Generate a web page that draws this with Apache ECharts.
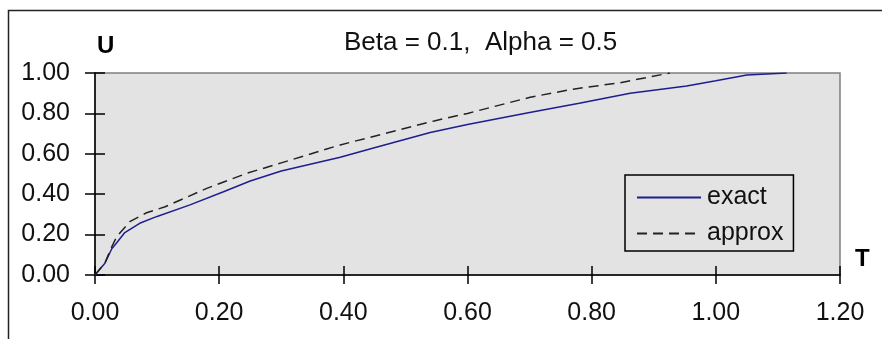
<!DOCTYPE html>
<html lang="en">
<head>
    <meta charset="utf-8">
    <title>Beta = 0.1, Alpha = 0.5</title>
    <script type="text/javascript" src="https://cdn.jsdelivr.net/npm/echarts@6/dist/echarts.min.js"></script>
    <style type="text/css">
        html, body {
            margin: 0;
            padding: 0;
            background: #ffffff;
        }

        #main {
            width: 882px;
            height: 339px;
        }
    </style>
</head>
<body>
<div id="main"></div>
<script type="text/javascript">
    // T / U pairs
    var exactT = [0, 0.008, 0.016, 0.027, 0.035, 0.048, 0.072, 0.10, 0.153, 0.207, 0.25, 0.30, 0.395, 0.45, 0.54, 0.60, 0.70, 0.78, 0.862, 0.953, 1.00, 1.05, 1.114];
    var exactU = [0, 0.03, 0.058, 0.13, 0.16, 0.21, 0.256, 0.29, 0.347, 0.412, 0.465, 0.515, 0.583, 0.63, 0.705, 0.745, 0.805, 0.85, 0.90, 0.936, 0.962, 0.99, 1.0];

    var approxT = [0, 0.016, 0.027, 0.035, 0.056, 0.083, 0.113, 0.18, 0.244, 0.30, 0.395, 0.47, 0.548, 0.60, 0.701, 0.77, 0.846, 0.926];
    var approxU = [0, 0.06, 0.14, 0.19, 0.264, 0.308, 0.338, 0.429, 0.503, 0.555, 0.644, 0.703, 0.764, 0.80, 0.88, 0.92, 0.952, 1.0];

    var xTicks = ['0.00', '0.20', '0.40', '0.60', '0.80', '1.00', '1.20'];
    var yTicks = ['0.00', '0.20', '0.40', '0.60', '0.80', '1.00'];

    function pairs(xs, ys) {
        var out = [];
        for (var i = 0; i < xs.length; i++) {
            out.push([xs[i], ys[i]]);
        }
        return out;
    }

    var font = "'Liberation Sans', Arial, sans-serif";

    var myChart = echarts.init(document.getElementById('main'));

    var option = {
        animation: false,
        textStyle: {
            fontFamily: font
        },
        title: {
            text: 'Beta = 0.1,  Alpha = 0.5',
            left: 344,
            top: 30,
            padding: 0,
            textStyle: {
                fontFamily: font,
                fontSize: 26,
                fontWeight: 'normal',
                color: '#111'
            }
        },
        graphic: [{
            type: 'rect',
            silent: true,
            shape: {x: 8.5, y: 10.5, width: 1000, height: 1000},
            style: {fill: null, stroke: '#222', lineWidth: 1.5}
        }],
        legend: {
            orient: 'vertical',
            left: 625,
            top: 175,
            padding: [10, 10, 5, 11],
            itemGap: 11,
            itemWidth: 64,
            itemHeight: 14,
            borderColor: '#000',
            borderWidth: 1.5,
            borderRadius: 0,
            itemStyle: {opacity: 0},
            textStyle: {
                fontFamily: font,
                fontSize: 25,
                color: '#111',
                padding: [0, 0, 0, 1]
            },
            data: ['exact', 'approx']
        },
        grid: {
            left: 95,
            top: 73,
            width: 745,
            height: 202,
            show: true,
            backgroundColor: '#e3e3e3',
            borderColor: '#808080',
            borderWidth: 1.5
        },
        xAxis: [{
            type: 'value',
            position: 'bottom',
            min: 0,
            max: 1.2,
            interval: 0.2,
            name: 'T',
            nameLocation: 'end',
            nameGap: 15,
            nameTextStyle: {
                fontFamily: font,
                fontSize: 24,
                fontWeight: 'bold',
                color: '#000',
                verticalAlign: 'bottom',
                align: 'left',
                padding: [0, 0, 4, 0]
            },
            splitLine: {show: false},
            axisLine: {lineStyle: {color: '#000', width: 1.5}},
            axisTick: {length: 9, lineStyle: {color: '#000', width: 1.5}},
            axisLabel: {
                margin: 26,
                fontFamily: font,
                fontSize: 25,
                color: '#111',
                formatter: function (v) {
                    return xTicks[Math.round(v / 0.2)];
                }
            }
        }, {
            type: 'value',
            position: 'bottom',
            min: 0,
            max: 1.2,
            interval: 0.2,
            splitLine: {show: false},
            axisLine: {show: false},
            axisTick: {inside: true, length: 9, lineStyle: {color: '#000', width: 1.5}},
            axisLabel: {show: false}
        }],
        yAxis: [{
            type: 'value',
            position: 'left',
            min: 0,
            max: 1,
            interval: 0.2,
            name: 'U',
            nameLocation: 'end',
            nameGap: 27,
            nameTextStyle: {
                fontFamily: font,
                fontSize: 24,
                fontWeight: 'bold',
                color: '#000',
                align: 'left',
                verticalAlign: 'middle',
                padding: [0, 0, 0, 2]
            },
            splitLine: {show: false},
            axisLine: {show: true, lineStyle: {color: '#000', width: 1.5}},
            axisTick: {show: true, length: 10, lineStyle: {color: '#000', width: 1.5}},
            axisLabel: {
                margin: 25,
                fontFamily: font,
                fontSize: 25,
                color: '#111',
                formatter: function (v) {
                    return yTicks[Math.round(v / 0.2)];
                }
            }
        }, {
            type: 'value',
            position: 'left',
            min: 0,
            max: 1,
            interval: 0.2,
            splitLine: {show: false},
            axisLine: {show: false},
            axisTick: {show: true, inside: true, length: 10, lineStyle: {color: '#000', width: 1.5}},
            axisLabel: {show: false}
        }],
        series: [{
            name: 'exact',
            type: 'line',
            xAxisIndex: 0,
            yAxisIndex: 0,
            symbol: 'none',
            smooth: false,
            lineStyle: {color: '#1e1e90', width: 1.5},
            itemStyle: {color: '#1e1e90'},
            data: pairs(exactT, exactU)
        }, {
            name: 'approx',
            type: 'line',
            xAxisIndex: 0,
            yAxisIndex: 0,
            symbol: 'none',
            smooth: false,
            lineStyle: {color: '#222', width: 1.5, type: [10, 6]},
            itemStyle: {color: '#222'},
            data: pairs(approxT, approxU)
        }]
    };

    myChart.setOption(option);
</script>
</body>
</html>
